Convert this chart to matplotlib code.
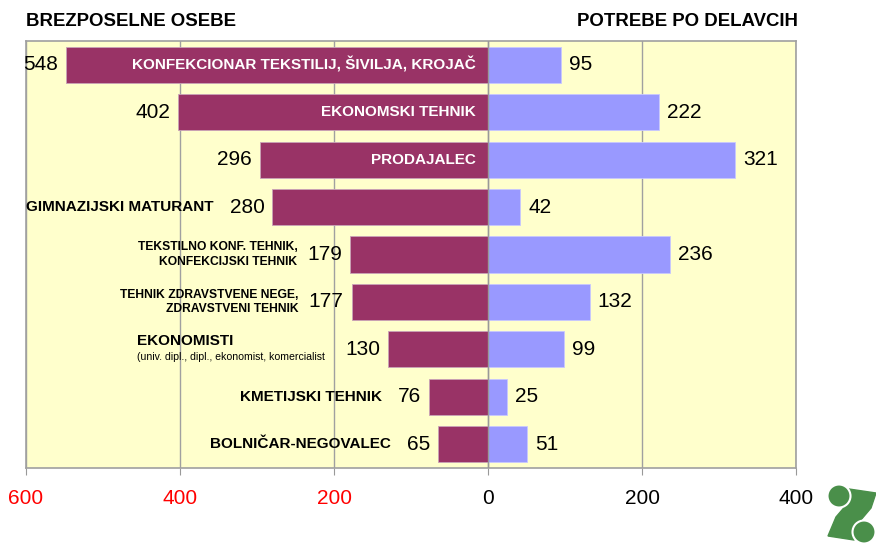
import matplotlib.pyplot as plt
from matplotlib.patches import Ellipse, Polygon

plt.rcParams['font.family'] = ['Liberation Sans', 'DejaVu Sans']

# podatki
poklici = ['KONFEKCIONAR TEKSTILIJ, ŠIVILJA, KROJAČ', 'EKONOMSKI TEHNIK', 'PRODAJALEC',
           'GIMNAZIJSKI MATURANT', 'TEKSTILNO KONF. TEHNIK,\nKONFEKCIJSKI TEHNIK',
           'TEHNIK ZDRAVSTVENE NEGE,\nZDRAVSTVENI TEHNIK', 'EKONOMISTI',
           'KMETIJSKI TEHNIK', 'BOLNIČAR-NEGOVALEC']
brezposelni = [548, 402, 296, 280, 179, 177, 130, 76, 65]
potrebe = [95, 222, 321, 42, 236, 132, 99, 25, 51]
ekonomisti_opomba = '(univ. dipl., dipl., ekonomist, komercialist'
xticks = [-600, -400, -200, 0, 200, 400]
xtick_labels = ['600', '400', '200', '0', '200', '400']
xtick_colors = ['red', 'red', 'red', 'black', 'black', 'black']

fig = plt.figure(figsize=(8.76, 5.43), dpi=100)
ax = fig.add_axes([26 / 876, 1 - 468 / 543, 770 / 876, 427 / 543])
ax.set_facecolor('#FFFFCC')

y = list(range(len(poklici)))
ax.barh(y, [-v for v in brezposelni], height=0.76, color='#993366', edgecolor='#c9a3b8', linewidth=0.6, zorder=3)
ax.barh(y, potrebe, height=0.76, color='#9999FF', edgecolor='#c8c8ff', linewidth=0.6, zorder=3)

ax.set_xlim(-600, 400)
ax.set_ylim(len(poklici) - 0.5, -0.5)
ax.set_yticks([])
ax.set_xticks(xticks)
ax.set_xticklabels(xtick_labels, fontsize=15)
for lbl, c in zip(ax.get_xticklabels(), xtick_colors):
    lbl.set_color(c)
ax.tick_params(axis='x', length=5, color='#999999', pad=10)
ax.grid(axis='x', color='#a0a0a0', linewidth=1, zorder=0)
ax.axvline(0, color='#999999', linewidth=1, zorder=4)
for s in ax.spines.values():
    s.set_color('#a0a0a0')
    s.set_linewidth(1.2)

# vrednosti in imena poklicev
for i, (b, p, ime) in enumerate(zip(brezposelni, potrebe, poklici)):
    ax.annotate(str(p), xy=(p, i), xytext=(8, 0), textcoords='offset pixels',
                ha='left', va='center', fontsize=15, zorder=5)
    t = ax.annotate(str(b), xy=(-b, i), xytext=(-8, 0), textcoords='offset pixels',
                    ha='right', va='center', fontsize=15, zorder=5, annotation_clip=False)
    if i < 3:
        ax.annotate(ime, xy=(0, i), xytext=(-12, 0), textcoords='offset pixels',
                    ha='right', va='center', fontsize=11, fontweight='bold', color='white', zorder=5)
    elif ime == 'EKONOMISTI':
        op = ax.annotate(ekonomisti_opomba, xy=(0, 0.5), xycoords=t, xytext=(-20, -8),
                         textcoords='offset pixels', ha='right', va='center', fontsize=7.6)
        ax.annotate(ime, xy=(0, 0.5), xycoords=op, xytext=(0, 16), textcoords='offset pixels',
                    ha='left', va='center', fontsize=11, fontweight='bold')
    elif '\n' in ime:
        ax.annotate(ime, xy=(0, 0.5), xycoords=t, xytext=(-10, 0), textcoords='offset pixels',
                    ha='right', va='center', fontsize=8.7, fontweight='bold', multialignment='right',
                    linespacing=1.3)
    else:
        ax.annotate(ime, xy=(0, 0.5), xycoords=t, xytext=(-16, 0), textcoords='offset pixels',
                    ha='right', va='center', fontsize=11, fontweight='bold')

fig.text(26 / 876, 1 - 22 / 543, 'BREZPOSELNE OSEBE', ha='left', va='center', fontsize=13.4, fontweight='bold')
fig.text(798 / 876, 1 - 22 / 543, 'POTREBE PO DELAVCIH', ha='right', va='center', fontsize=13.4, fontweight='bold')

# logotip
zelena = '#4a8f4a'
def fxy(px, py):
    return (px / 876, 1 - py / 543)
fig.patches.append(Polygon([fxy(*p) for p in [(849, 489), (876, 493), (871, 508), (860, 521), (854, 540),
                                               (828, 536), (836, 517), (848, 503)]],
                           closed=True, transform=fig.transFigure, color=zelena))
for cx, cy in [(839, 496), (864, 532)]:
    fig.patches.append(Ellipse(fxy(cx, cy), 23 / 876, 23 / 543, transform=fig.transFigure,
                               facecolor=zelena, edgecolor='white', linewidth=1.5))

fig.savefig('out.png', dpi=100)
